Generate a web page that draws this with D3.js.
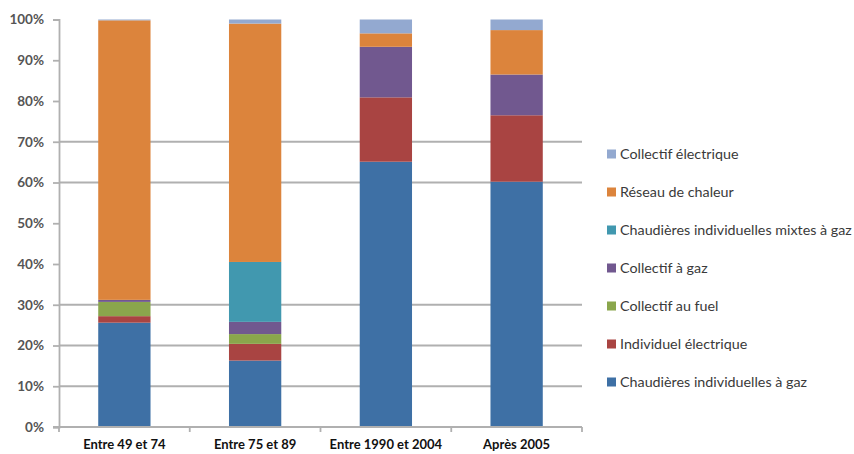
<!DOCTYPE html>
<html>
<head>
<meta charset="utf-8">
<script src="https://cdn.jsdelivr.net/npm/d3@7"></script>
<style>
  html, body { margin: 0; padding: 0; background: #fff; }
  svg { display: block; }
</style>
</head>
<body>
<svg id="chart" width="854" height="454"></svg>
<script>
// Périodes de construction
const categories = ["Entre 49 et 74", "Entre 75 et 89", "Entre 1990 et 2004", "Après 2005"];

// Séries, de bas en haut de la pile (parts en %)
const seriesNames = [
  "Chaudières individuelles à gaz",
  "Individuel électrique",
  "Collectif au fuel",
  "Collectif à gaz",
  "Chaudières individuelles mixtes à gaz",
  "Réseau de chaleur",
  "Collectif électrique"
];
const chaudieresGaz   = [25.6, 16.3, 65.1, 60.2];
const indivElectrique = [1.6, 4.1, 15.8, 16.3];
const collectifFuel   = [3.5, 2.4, 0, 0];
const collectifGaz    = [0.5, 3.0, 12.4, 10.0];
const mixtesGaz       = [0, 14.7, 0, 0];
const reseauChaleur   = [68.6, 58.5, 3.3, 10.9];
const collectifElec   = [0.2, 1.0, 3.4, 2.6];

const seriesColors = ["#3e70a5", "#a94442", "#8aa64c", "#71588f", "#4198af", "#dc843c", "#93a9d0"];

// Graduations de l'axe vertical
const yTicks = [0, 10, 20, 30, 40, 50, 60, 70, 80, 90, 100];
const yGridShown = [10, 20, 30, 60, 70];

const seriesValues = [chaudieresGaz, indivElectrique, collectifFuel, collectifGaz, mixtesGaz, reseauChaleur, collectifElec];
const rows = categories.map((c, i) => {
  const r = { cat: c };
  seriesNames.forEach((s, k) => { r[s] = seriesValues[k][i]; });
  return r;
});
const stacked = d3.stack().keys(seriesNames)(rows);

const svg = d3.select("#chart");
const m = { left: 59, right: 582, top: 19.5, bottom: 427 };

const x = d3.scaleBand().domain(categories).range([m.left, m.right]).paddingInner(0.6).paddingOuter(0.3);
const y = d3.scaleLinear().domain([0, 100]).range([m.bottom, m.top]);

const gridColor = "#b0b0b0";

// Lignes de grille
svg.append("g").selectAll("line").data(yGridShown).join("line")
  .attr("x1", m.left).attr("x2", m.right)
  .attr("y1", d => y(d)).attr("y2", d => y(d))
  .attr("stroke", gridColor).attr("stroke-width", 1.8);

// Axe vertical
const yAxis = svg.append("g").attr("transform", `translate(${m.left},0)`)
  .call(d3.axisLeft(y).tickValues(yTicks).tickFormat(d => d + "%").tickSize(6).tickPadding(9));
yAxis.select(".domain").attr("stroke", gridColor).attr("stroke-width", 1.8);
yAxis.selectAll(".tick line").attr("stroke", gridColor).attr("stroke-width", 1.8);
yAxis.selectAll("text").attr("font-family", "Lato, 'Open Sans', sans-serif")
  .attr("font-size", 13.5).attr("fill", "#555").attr("font-weight", "bold");

// Barres empilées
svg.append("g").selectAll("g").data(stacked).join("g")
  .attr("fill", (d, i) => seriesColors[i])
  .selectAll("rect").data(d => d).join("rect")
  .attr("x", d => x(d.data.cat))
  .attr("width", x.bandwidth())
  .attr("y", d => y(d[1]))
  .attr("height", d => Math.max(0, y(d[0]) - y(d[1])));

// Axe horizontal
const bounds = d3.range(categories.length + 1).map(i => m.left + i * (m.right - m.left) / categories.length);
svg.append("line").attr("x1", m.left - 6).attr("x2", m.right)
  .attr("y1", m.bottom).attr("y2", m.bottom)
  .attr("stroke", gridColor).attr("stroke-width", 1.8);
svg.append("g").selectAll("line").data(bounds).join("line")
  .attr("x1", d => d).attr("x2", d => d)
  .attr("y1", m.bottom).attr("y2", m.bottom + 5)
  .attr("stroke", gridColor).attr("stroke-width", 1.8);
svg.append("g").selectAll("text").data(categories).join("text")
  .attr("x", d => x(d) + x.bandwidth() / 2)
  .attr("y", 449)
  .attr("text-anchor", "middle")
  .attr("font-family", "Lato, 'Open Sans', sans-serif")
  .attr("font-size", 13).attr("font-weight", "bold").attr("fill", "#111")
  .text(d => d);

// Légende (ordre inverse de la pile)
const legendItems = seriesNames.map((s, i) => ({ name: s, color: seriesColors[i] })).reverse();
const lg = svg.append("g").selectAll("g").data(legendItems).join("g")
  .attr("transform", (d, i) => `translate(607, ${154 + i * 38})`);
lg.append("rect").attr("x", 0).attr("y", -4.5).attr("width", 9).attr("height", 9).attr("fill", d => d.color);
lg.append("text").attr("x", 13).attr("y", 0).attr("dy", "0.35em")
  .attr("font-family", "Lato, 'Open Sans', sans-serif")
  .attr("font-size", 14.3).attr("fill", "#3a3a3a")
  .text(d => d.name);
</script>
</body>
</html>
